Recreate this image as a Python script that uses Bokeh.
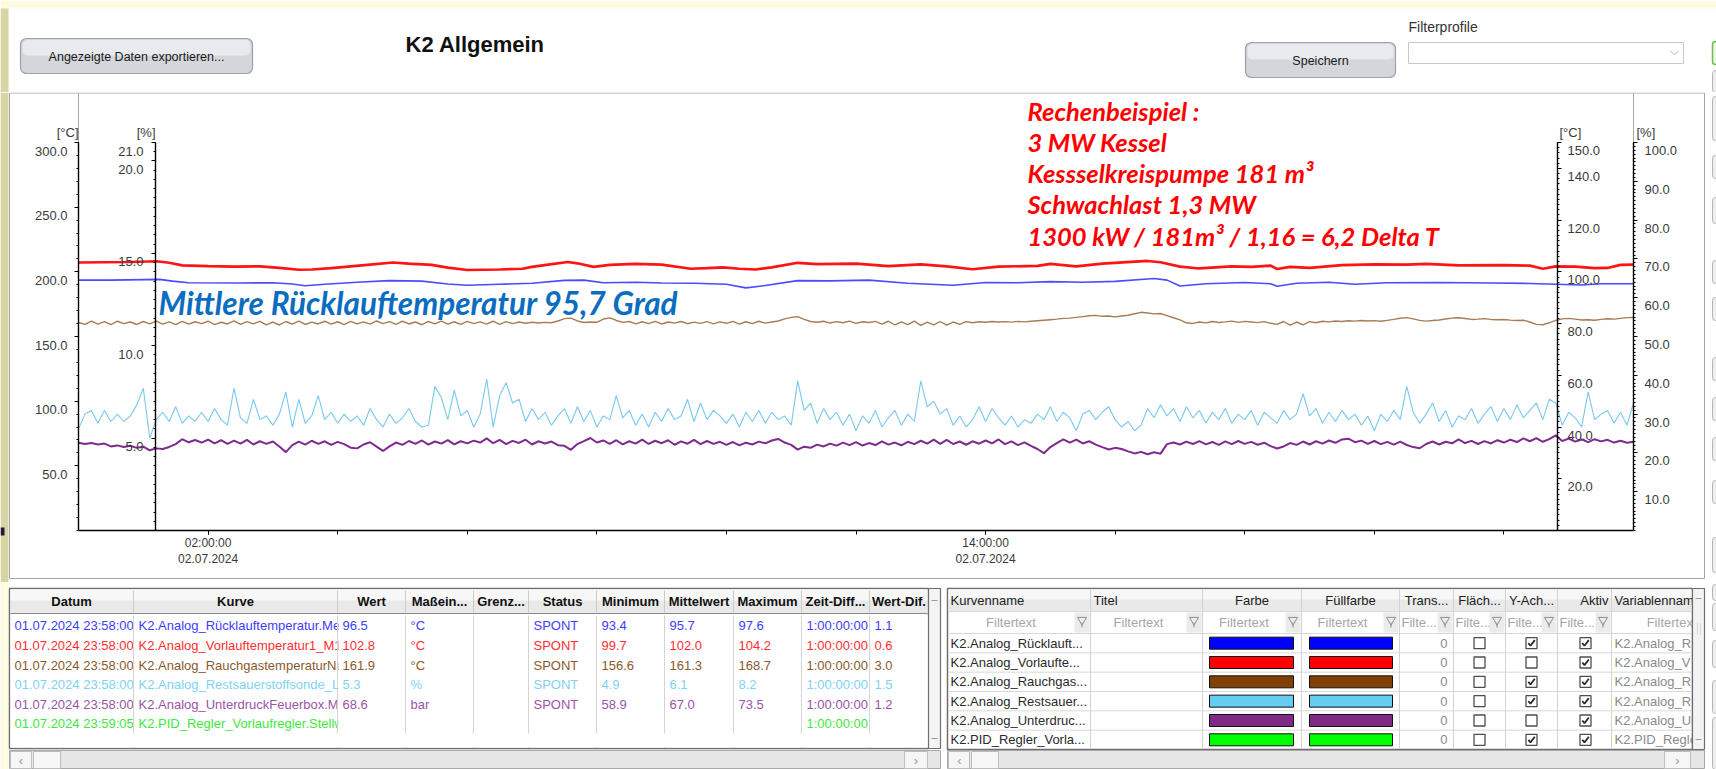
from datetime import datetime, timedelta
from bokeh.plotting import figure
from bokeh.models import Range1d, LinearAxis, DatetimeAxis, FixedTicker, CustomJSTickFormatter
from bokeh.layouts import column
from bokeh.core.properties import value
from bokeh.embed import file_html
from bokeh.resources import INLINE

# ------------------------------------------------------------------ data
START = datetime(2024, 7, 2, 0, 0)
EPOCH = datetime(1970, 1, 1)
SPAN_HOURS = 24
STEP_MIN = 6  # sampling step of the dense series

RED_HOURS = [0.0, 0.4, 0.8, 1.2, 1.4, 1.6, 2.0, 2.4, 2.8, 3.1, 3.4, 3.6, 3.9, 4.2, 4.5, 4.85, 5.1, 5.45,
             5.7, 6.0, 6.5, 6.85, 7.0, 7.25, 7.55, 7.7, 7.95, 8.2, 8.6, 9.0, 9.45, 9.7, 9.95, 10.2, 10.45,
             10.7, 11.1, 11.4, 12.0, 12.5, 13.0, 13.4, 13.8, 14.2, 14.8, 15.0, 15.4, 15.8, 16.5, 16.7, 17.0,
             17.3, 17.8, 18.1, 18.4, 18.5, 18.7, 19.0, 19.5, 20.0, 20.5, 20.8, 21.3, 22.0, 22.4, 22.6, 22.8,
             23.1, 23.4, 23.6, 23.8, 24.0]
RED_VALUES = [103.6, 103.7, 103.8, 104.1, 103.5, 102.5, 102.2, 102.0, 102.1, 101.5, 100.8, 100.9, 101.4,
              102.1, 102.8, 103.6, 103.2, 102.7, 101.6, 100.7, 100.9, 101.2, 101.9, 102.8, 103.8, 103.3,
              101.9, 102.7, 103.1, 102.8, 101.2, 101.4, 101.7, 101.2, 100.9, 101.7, 103.5, 103.0, 103.2,
              102.2, 102.9, 102.1, 101.0, 102.0, 102.3, 103.1, 102.1, 103.2, 104.2, 103.7, 102.0, 101.3,
              102.1, 101.9, 102.4, 101.1, 101.9, 101.5, 102.6, 102.9, 102.8, 103.1, 102.5, 102.6, 102.4,
              101.2, 102.1, 102.0, 101.4, 101.5, 102.7, 102.8]

BLUE_HOURS = [0.0, 0.5, 1.0, 1.25, 1.45, 1.7, 2.5, 3.0, 3.3, 3.5, 3.8, 4.3, 4.8, 5.3, 5.7, 6.0, 6.5, 7.0,
              7.5, 7.8, 8.1, 8.6, 9.0, 9.5, 10.0, 10.3, 10.6, 11.1, 11.6, 12.2, 12.8, 13.5, 14.0, 14.5, 15.0,
              15.5, 16.0, 16.6, 16.8, 17.0, 17.4, 18.0, 18.4, 18.5, 18.8, 19.3, 19.7, 20.2, 21.0, 21.8, 22.4,
              22.8, 23.2, 23.5, 24.0]
BLUE_VALUES = [96.8, 96.8, 97.0, 97.1, 96.4, 95.8, 95.7, 95.8, 95.3, 94.6, 95.2, 96.0, 96.6, 96.4, 95.3,
               94.8, 95.2, 95.6, 96.7, 96.8, 95.8, 96.0, 95.7, 95.6, 95.2, 93.8, 94.7, 96.6, 96.5, 96.8,
               95.6, 94.8, 95.9, 95.8, 96.2, 96.0, 96.3, 97.4, 96.8, 94.5, 95.4, 95.9, 95.4, 94.4, 95.6,
               96.0, 95.2, 95.8, 95.9, 95.7, 95.5, 95.2, 94.9, 95.4, 95.4]

BROWN_VALUES = [
    160.8, 159.4, 161.9, 159.6, 161.5, 159.2, 161.8, 159.9, 161.2, 159.3,
    161.6, 159.8, 161.9, 159.5, 161.3, 159.1, 161.7, 159.6, 161.4, 159.9,
    161.8, 159.2, 161.0, 159.7, 162.0, 159.4, 161.5, 159.8, 161.7, 159.0,
    161.2, 158.9, 161.6, 159.5, 161.9, 159.3, 161.1, 159.7, 161.8, 159.6,
    161.4, 159.2, 161.7, 159.8, 161.3, 159.5, 162.0, 159.9, 161.5, 159.4,
    161.8, 159.7, 161.2, 159.1, 161.6, 159.8, 161.9, 159.5, 161.4, 159.3,
    161.7, 159.9, 161.3, 159.6, 161.8, 159.4, 161.5, 159.9, 161.2, 160.2,
    161.0, 160.4, 160.9, 160.6, 162.0, 163.8, 164.2, 162.0, 160.8, 161.2,
    161.0, 163.5, 164.4, 162.4, 160.9, 161.6, 159.8, 161.4, 160.0, 161.7,
    159.7, 161.2, 160.3, 161.6, 159.9, 161.1, 160.1, 161.5, 159.8, 161.3,
    160.2, 161.7, 159.6, 161.4, 160.0, 161.8, 160.3, 161.2, 162.0, 163.6,
    164.8, 165.3, 163.2, 161.6, 161.0, 161.8, 160.4, 161.5, 160.6, 161.9,
    160.2, 161.4, 160.8, 161.7, 159.6, 161.8, 158.9, 161.3, 159.2, 161.9,
    158.6, 161.1, 159.0, 161.6, 158.8, 161.2, 159.4, 161.5, 160.6, 161.4,
    161.0, 161.6, 161.2, 161.5, 161.1, 161.7, 161.3, 161.8, 162.2, 162.6,
    163.0, 163.4, 164.0, 164.2, 164.8, 165.4, 166.0, 166.3, 165.6, 165.8,
    165.2, 165.9, 166.4, 167.6, 168.7, 168.2, 167.5, 167.8, 166.2, 164.5,
    162.8, 160.6, 160.1, 161.2, 160.5, 161.6, 160.8, 161.3, 161.9, 160.9,
    161.7, 161.2, 160.7, 161.5, 160.2, 159.4, 161.6, 158.8, 161.2, 159.0,
    161.5, 160.6, 161.8, 161.3, 162.0, 161.6, 162.2, 161.9, 162.4, 162.0,
    162.3, 161.8, 162.5, 163.2, 164.1, 164.6, 163.6, 162.5, 161.9, 162.4,
    162.8, 163.5, 164.2, 164.5, 163.9, 163.2, 163.4, 163.8, 163.2, 162.9,
    163.1, 162.7, 162.4, 162.6, 161.2, 159.4, 159.1, 160.6, 162.5, 163.6,
    164.0, 163.4, 162.8, 163.0, 162.6, 163.2, 163.7, 163.4, 164.0, 164.6,
    164.7]

O2_VALUES = [
    5.5, 6.3, 6.5, 5.8, 6.5, 5.9, 6.3, 5.9, 6.2, 6.8,
    7.7, 5.0, 6.0, 6.4, 5.9, 6.7, 5.8, 6.2, 5.9, 6.4,
    5.9, 6.6, 6.0, 5.7, 7.7, 6.1, 5.8, 7.1, 6.0, 6.2,
    5.7, 6.3, 7.5, 5.6, 7.1, 5.8, 6.2, 7.3, 6.0, 6.4,
    5.8, 6.3, 5.9, 6.2, 5.7, 6.6, 6.0, 5.6, 6.3, 5.8,
    6.1, 6.6, 5.9, 5.6, 5.7, 7.8, 7.2, 6.0, 7.6, 6.2,
    6.5, 5.6, 6.3, 8.2, 5.6, 7.3, 8.0, 6.9, 7.1, 5.9,
    6.6, 6.0, 6.4, 5.7, 6.2, 6.6, 5.8, 6.7, 5.9, 6.5,
    5.6, 6.2, 6.0, 7.3, 6.1, 6.5, 5.7, 6.3, 5.6, 6.4,
    5.9, 6.6, 6.0, 6.2, 7.1, 5.9, 6.9, 6.0, 6.5, 6.2,
    5.8, 6.3, 5.6, 6.4, 5.9, 6.5, 5.8, 6.4, 6.0, 6.2,
    5.7, 8.1, 6.5, 6.9, 5.8, 6.6, 6.0, 6.4, 5.7, 6.3,
    5.4, 6.2, 5.8, 6.5, 5.6, 6.1, 6.5, 5.7, 6.3, 5.9,
    8.1, 6.7, 7.0, 6.3, 6.6, 5.7, 6.2, 5.6, 6.0, 6.7,
    5.9, 6.6, 6.1, 5.7, 6.2, 5.6, 6.0, 5.8, 6.3, 6.0,
    6.7, 5.9, 6.4, 6.1, 5.4, 6.3, 6.5, 6.0, 6.4, 6.7,
    6.0, 5.6, 5.9, 5.4, 5.7, 6.6, 6.1, 6.8, 6.2, 6.6,
    5.9, 6.7, 6.1, 6.5, 5.8, 6.4, 6.0, 6.6, 5.8, 6.3,
    6.0, 6.5, 5.7, 6.4, 6.1, 5.8, 6.5, 6.0, 6.3, 7.4,
    6.2, 6.6, 5.8, 6.4, 5.9, 6.5, 6.0, 6.3, 5.7, 6.2,
    5.4, 6.3, 5.9, 6.5, 6.0, 7.8, 6.4, 5.8, 6.3, 6.9,
    5.9, 6.5, 5.6, 6.2, 6.0, 6.6, 5.8, 6.3, 6.7, 5.9,
    6.6, 6.0, 6.8, 6.1, 6.5, 6.9, 6.0, 7.1, 6.9, 5.7,
    6.4, 6.1, 5.6, 7.5, 6.0, 6.3, 6.5, 5.8, 6.4, 5.7,
    6.9]

PURPLE_VALUES = [
    67.8, 66.9, 67.6, 66.5, 67.2, 65.0, 65.8, 64.6, 65.5, 63.9,
    64.8, 62.0, 63.5, 63.0, 64.6, 66.8, 70.6, 68.2, 70.0, 67.9,
    70.3, 67.4, 69.8, 66.9, 69.5, 67.2, 70.1, 66.5, 69.0, 67.0,
    68.8, 64.9, 60.6, 66.0, 68.7, 66.4, 69.4, 67.0, 69.0, 66.2,
    68.5, 66.8, 64.0, 63.5, 66.5, 68.2, 64.8, 61.5, 65.0, 68.0,
    66.2, 69.2, 67.0, 69.6, 66.4, 68.8, 67.2, 69.9, 66.6, 69.0,
    67.4, 69.5, 68.0, 71.2, 67.5, 70.0, 66.8, 69.3, 67.7, 70.2,
    66.5, 69.0, 67.3, 68.8, 66.0, 65.5, 62.4, 66.8, 69.1, 71.5,
    68.0, 69.6, 67.0, 69.8, 66.6, 69.0, 67.2, 70.2, 66.9, 69.4,
    67.5, 69.8, 66.3, 68.9, 67.1, 70.0, 66.8, 69.2, 67.0, 68.6,
    66.2, 68.4, 65.8, 67.9, 66.5, 68.7, 67.4, 69.6, 70.8, 68.0,
    66.2, 62.5, 64.8, 63.9, 66.4, 65.0, 67.2, 65.6, 67.9, 66.0,
    68.3, 65.7, 67.6, 66.1, 68.9, 66.4, 68.0, 65.9, 68.6, 66.8,
    69.4, 67.2, 70.3, 67.0, 70.0, 66.9, 68.8, 66.3, 69.0, 67.1,
    69.6, 67.4, 70.4, 66.8, 68.9, 66.0, 68.2, 65.4, 63.0, 59.8,
    64.5, 67.6, 70.5, 68.0, 70.2, 67.3, 69.0, 66.4, 64.5, 62.6,
    63.9, 63.0, 61.2, 59.6, 60.8, 59.0, 60.5, 59.4, 66.8, 68.0,
    66.5, 68.7, 66.9, 69.1, 66.6, 68.4, 66.2, 68.9, 66.8, 69.2,
    67.0, 68.5, 66.3, 67.9, 65.2, 63.4, 65.0, 67.6, 66.2, 68.8,
    66.5, 69.0, 67.2, 69.6, 67.8, 70.4, 71.0, 68.3, 69.5, 67.0,
    69.2, 66.8, 68.5, 66.4, 68.7, 66.1, 64.5, 63.6, 66.9, 68.8,
    66.5, 68.6, 67.4, 70.4, 67.6, 69.3, 66.9, 69.1, 67.3, 69.8,
    68.0, 70.2, 68.4, 71.3, 69.0, 71.5, 68.6, 70.6, 73.5, 69.2,
    71.0, 68.7, 70.4, 68.3, 70.6, 68.9, 70.1, 68.0, 69.4, 67.9,
    68.6]

# axes
LEFT_C_MAX, LEFT_C_TICKS = 300, [50, 100, 150, 200, 250, 300]
LEFT_P_MAX, LEFT_P_TICKS = 21, [5, 10, 15, 20, 21]
RIGHT_C_MAX, RIGHT_C_TICKS = 150, [20, 40, 60, 80, 100, 120, 140, 150]
RIGHT_P_MAX, RIGHT_P_TICKS = 100, [10, 20, 30, 40, 50, 60, 70, 80, 90, 100]
X_TICK_HOURS = [2, 14]
X_TICK_TIME = ["02:00:00", "14:00:00"]
X_TICK_DATE = ["02.07.2024", "02.07.2024"]
X_MINOR_HOURS = [2, 4, 6, 8, 10, 12, 14, 16, 18, 20, 22]
UNIT_LABELS = ["[°C]", "[%]", "[°C]", "[%]"]

TITLE = "K2 Allgemein"
NOTE_LINES = ["Rechenbeispiel :", "3 MW Kessel", "Kessselkreispumpe 181 m³", "Schwachlast 1,3 MW",
              "1300 kW / 181m³ / 1,16 = 6,2 Delta T"]
BLUE_NOTE = "Mittlere Rücklauftemperatur 95,7 Grad"

# left table
L_HEAD = ["Datum", "Kurve", "Wert", "Maßein...", "Grenz...", "Status", "Minimum", "Mittelwert",
          "Maximum", "Zeit-Diff...", "Wert-Dif."]
DATUM = ["01.07.2024 23:58:00"] * 5 + ["01.07.2024 23:59:05"]
KURVE = ["K2.Analog_Rücklauftemperatur.Me", "K2.Analog_Vorlauftemperatur1_M1",
         "K2.Analog_RauchgastemperaturNa", "K2.Analog_Restsauerstoffsonde_L",
         "K2.Analog_UnterdruckFeuerbox.M", "K2.PID_Regler_Vorlaufregler.Stellw"]
WERT = ["96.5", "102.8", "161.9", "5.3", "68.6", ""]
EINHEIT = ["°C", "°C", "°C", "%", "bar", ""]
GRENZ = [""] * 6
STATUS = ["SPONT"] * 5 + [""]
MINIMUM = ["93.4", "99.7", "156.6", "4.9", "58.9", ""]
MITTEL = ["95.7", "102.0", "161.3", "6.1", "67.0", ""]
MAXIMUM = ["97.6", "104.2", "168.7", "8.2", "73.5", ""]
ZEITDIFF = ["1:00:00:00"] * 6
WERTDIF = ["1.1", "0.6", "3.0", "1.5", "1.2", ""]
ROW_TEXT_COLORS = ["#3d3dff", "#ff2e2e", "#8a5a2e", "#80d2f5", "#9b54a8", "#3ee83e"]

# right table
R_HEAD = ["Kurvenname", "Titel", "Farbe", "Füllfarbe", "Trans...", "Fläch...", "Y-Ach...", "Aktiv",
          "Variablennam"]
KURVENNAME = ["K2.Analog_Rücklauft...", "K2.Analog_Vorlaufte...", "K2.Analog_Rauchgas...",
              "K2.Analog_Restsauer...", "K2.Analog_Unterdruc...", "K2.PID_Regler_Vorla..."]
VARIABLENNAME = ["K2.Analog_R", "K2.Analog_V", "K2.Analog_R", "K2.Analog_R", "K2.Analog_U", "K2.PID_Regle"]
CURVE_COLORS = ["#0000ff", "#ff0000", "#804000", "#66ccf2", "#802a88", "#00ff00"]
TRANS = ["0"] * 6
FLAECHE = [False] * 6
Y_ACHSE = [True, False, True, True, False, True]
AKTIV = [True] * 6

# line styles
RED_C, BLUE_C, BROWN_C, O2_C, PURPLE_C = "#ff1414", "#4a4aff", "#a87c55", "#78c8ef", "#7e2a8e"

# ------------------------------------------------------------------ geometry (page pixels)
W = 1716
HEAD_TOP, HEAD_H = 0, 92
MAIN_TOP, MAIN_H = 92, 490
BOT_TOP = MAIN_TOP + MAIN_H
BOT_H = 769 - HEAD_H - MAIN_H
DATA_L, DATA_R = 78, 1633
AX_TOP, AX_BOT = 142, 530
PPH = (DATA_R - DATA_L) / SPAN_HOURS

SANS = value("Liberation Sans")
LATO = value("Lato")
STRIP_Y, STRIP_K = "#fdfbe1", "#d8d4a3"


def ms(h):
    return (START + timedelta(hours=h) - EPOCH).total_seconds() * 1000.0


def hx(px):
    return (px - DATA_L) / PPH


def X(px):
    return ms(hx(px))


def ppu(m):
    return (AX_BOT - AX_TOP) / m


def yr(m):
    return Range1d(start=(AX_BOT - (MAIN_TOP + MAIN_H)) / ppu(m), end=(AX_BOT - MAIN_TOP) / ppu(m))


def Y(py):
    return (AX_BOT - py) / ppu(LEFT_C_MAX)


def page_y(v, m):
    return AX_BOT - v * ppu(m)


# ------------------------------------------------------------------ main chart
p = figure(width=W, height=MAIN_H, x_axis_type="datetime",
           x_range=Range1d(X(0), X(W)), y_range=yr(LEFT_C_MAX),
           x_axis_location=None, y_axis_location=None, toolbar_location=None,
           output_backend="svg", min_border=0, outline_line_color=None,
           background_fill_color="white", border_fill_color="white")
p.grid.visible = False
p.extra_y_ranges = {"pl": yr(LEFT_P_MAX), "cr": yr(RIGHT_C_MAX), "pr": yr(RIGHT_P_MAX)}

BLANK = CustomJSTickFormatter(code="return ''")


def style(ax, minor_len=2):
    ax.axis_line_color = "black"
    ax.axis_line_width = 1.4
    ax.major_tick_line_color = "black"
    ax.minor_tick_line_color = "black"
    ax.major_tick_in = 0
    ax.major_tick_out = 4
    ax.minor_tick_in = 0
    ax.minor_tick_out = minor_len
    ax.formatter = BLANK
    ax.major_label_standoff = 0
    return ax


def minor(maxv, step):
    out, v = [], 0.0
    while v <= maxv + 1e-9:
        out.append(round(v, 3))
        v += step
    return out


ax_lc = style(LinearAxis(fixed_location=X(DATA_L), bounds=(0, LEFT_C_MAX),
                         ticker=FixedTicker(ticks=LEFT_C_TICKS, minor_ticks=minor(LEFT_C_MAX, 10))))
p.add_layout(ax_lc, "left")
ax_lp = style(LinearAxis(y_range_name="pl", fixed_location=X(155), bounds=(0, LEFT_P_MAX),
                         ticker=FixedTicker(ticks=LEFT_P_TICKS, minor_ticks=minor(LEFT_P_MAX, 0.5))))
p.add_layout(ax_lp, "left")
ax_rc = style(LinearAxis(y_range_name="cr", fixed_location=X(1557), bounds=(0, RIGHT_C_MAX),
                         ticker=FixedTicker(ticks=RIGHT_C_TICKS, minor_ticks=minor(RIGHT_C_MAX, 2))))
p.add_layout(ax_rc, "right")
ax_rp = style(LinearAxis(y_range_name="pr", fixed_location=X(DATA_R), bounds=(0, RIGHT_P_MAX),
                         ticker=FixedTicker(ticks=RIGHT_P_TICKS, minor_ticks=minor(RIGHT_P_MAX, 1))))
p.add_layout(ax_rp, "right")
ax_x = style(DatetimeAxis(fixed_location=0, bounds=(ms(0), ms(SPAN_HOURS)),
                          ticker=FixedTicker(ticks=[ms(h) for h in X_TICK_HOURS],
                                             minor_ticks=[ms(h) for h in X_MINOR_HOURS])), minor_len=4)
p.add_layout(ax_x, "below")

# window strips, panel border and grey frame extensions above the axes
p.quad(left=[X(0)], right=[X(8)], top=[Y(MAIN_TOP)], bottom=[Y(MAIN_TOP + MAIN_H)], fill_color=STRIP_K,
       line_color=None)
p.quad(left=[X(0)], right=[X(4)], top=[Y(527)], bottom=[Y(535)], fill_color="#2b1838", line_color=None)
p.quad(left=[X(9)], right=[X(1704)], top=[Y(92.5)], bottom=[Y(578)], fill_color=None,
       line_color="#a6a6a6", line_width=1)
p.segment(x0=[X(DATA_L), X(DATA_R)], y0=[LEFT_C_MAX] * 2, x1=[X(DATA_L), X(DATA_R)], y1=[Y(93)] * 2,
          line_color="#a6a6a6", line_width=1)
SLIV_MAIN = [(96, 140), (155, 178), (197, 223), (260, 283), (297, 320), (357, 380), (397, 420),
             (437, 460), (480, 503), (537, 572)]
p.quad(left=[X(1712)] * len(SLIV_MAIN), right=[X(1722)] * len(SLIV_MAIN),
       top=[Y(a) for a, _ in SLIV_MAIN], bottom=[Y(c) for _, c in SLIV_MAIN],
       fill_color="#eeeeee", line_color="#b4b4b4", border_radius=3)

# data lines
dense_x = lambda vals: [ms(i * STEP_MIN / 60.0) for i in range(len(vals))]
p.line(dense_x(O2_VALUES), O2_VALUES, y_range_name="pl", line_color=O2_C, line_width=1.1)
p.line(dense_x(PURPLE_VALUES), PURPLE_VALUES, line_color=PURPLE_C, line_width=2)
p.line(dense_x(BROWN_VALUES), BROWN_VALUES, line_color=BROWN_C, line_width=1.4)
p.line([ms(h) for h in BLUE_HOURS], BLUE_VALUES, y_range_name="cr", line_color=BLUE_C, line_width=1.6)
p.line([ms(h) for h in RED_HOURS], RED_VALUES, y_range_name="cr", line_color=RED_C, line_width=2.7)

# tick labels
LBL = dict(text_font=SANS, text_font_size="13px", text_color="#3a3a3a", text_baseline="middle")
p.text(x=[X(DATA_L - 11)] * len(LEFT_C_TICKS), y=[Y(page_y(v, LEFT_C_MAX) + 8.5) for v in LEFT_C_TICKS],
       text=[f"{v:.1f}" for v in LEFT_C_TICKS], text_align="right", **LBL)
p.text(x=[X(155 - 12)] * len(LEFT_P_TICKS), y=[Y(page_y(v, LEFT_P_MAX) + 8.5) for v in LEFT_P_TICKS],
       text=[f"{v:.1f}" for v in LEFT_P_TICKS], text_align="right", **LBL)
p.text(x=[X(1557 + 10)] * len(RIGHT_C_TICKS), y=[Y(page_y(v, RIGHT_C_MAX) + 8) for v in RIGHT_C_TICKS],
       text=[f"{v:.1f}" for v in RIGHT_C_TICKS], text_align="left", **LBL)
p.text(x=[X(DATA_R + 11)] * len(RIGHT_P_TICKS), y=[Y(page_y(v, RIGHT_P_MAX) + 8) for v in RIGHT_P_TICKS],
       text=[f"{v:.1f}" for v in RIGHT_P_TICKS], text_align="left", **LBL)
p.text(x=[X(DATA_L), X(155)], y=[Y(132)] * 2, text=UNIT_LABELS[:2], text_align="right", **LBL)
p.text(x=[X(1559), X(DATA_R + 3)], y=[Y(132)] * 2, text=UNIT_LABELS[2:], text_align="left", **LBL)
p.text(x=[ms(h) for h in X_TICK_HOURS], y=[Y(542)] * 2, text=X_TICK_TIME, text_align="center",
       text_font=SANS, text_font_size="12px", text_color="#3a3a3a", text_baseline="middle")
p.text(x=[ms(h) for h in X_TICK_HOURS], y=[Y(557.5)] * 2, text=X_TICK_DATE, text_align="center",
       text_font=SANS, text_font_size="12px", text_color="#3a3a3a", text_baseline="middle")

# annotations
p.text(x=[X(1027)] * len(NOTE_LINES), y=[Y(110 + 31.3 * i) for i in range(len(NOTE_LINES))],
       text=NOTE_LINES, text_font=LATO, text_font_size="25.5px", text_font_style="bold italic",
       text_color="#ff0000", text_align="left", text_baseline="middle")
p.text(x=[X(158)], y=[Y(302)], text=[BLUE_NOTE], text_font=LATO, text_font_size="31.5px",
       text_font_style="bold italic", text_color="#0b6dc0", text_align="left", text_baseline="middle")


# ------------------------------------------------------------------ helpers for UI figures
def ui_fig(top, height):
    f = figure(width=W, height=height, x_range=Range1d(0, W), y_range=Range1d(top + height, top),
               x_axis_location=None, y_axis_location=None, toolbar_location=None,
               output_backend="svg", min_border=0, outline_line_color=None,
               background_fill_color="white", border_fill_color="white")
    f.grid.visible = False
    return f


# ------------------------------------------------------------------ header
h = ui_fig(HEAD_TOP, HEAD_H)
h.quad(left=[0], right=[W], top=[0], bottom=[8], fill_color=STRIP_Y, line_color=None)
h.quad(left=[0], right=[8], top=[8], bottom=[HEAD_H], fill_color=STRIP_K, line_color=None)
BTN_L, BTN_R, BTN_T, BTN_B = [20, 1245], [252, 1395], [38, 42], [73, 77]
h.quad(left=BTN_L, right=BTN_R, top=BTN_T, bottom=BTN_B, fill_color="#d3d7dc", line_color="#9da2a8",
       line_width=1.2, border_radius=6)
h.quad(left=[l + 2 for l in BTN_L], right=[r - 2 for r in BTN_R], top=[t + 1.5 for t in BTN_T],
       bottom=[t + 17 for t in BTN_T], fill_color="#e8eaed", line_color=None, border_radius=5)
h.text(x=[(l + r) / 2 for l, r in zip(BTN_L, BTN_R)], y=[(t + b) / 2 + 1 for t, b in zip(BTN_T, BTN_B)],
       text=["Angezeigte Daten exportieren...", "Speichern"], text_font=SANS, text_font_size="12.5px",
       text_color="#1a1a1a", text_align="center", text_baseline="middle")
h.text(x=[405], y=[44], text=[TITLE], text_font=SANS, text_font_size="22px", text_font_style="bold",
       text_color="#111111", text_align="left", text_baseline="middle")
h.text(x=[1408], y=[26], text=["Filterprofile"], text_font=SANS, text_font_size="14px",
       text_color="#333333", text_align="left", text_baseline="middle")
h.quad(left=[1408], right=[1683], top=[42], bottom=[63], fill_color="white", line_color="#c8c8c8")
h.line(x=[1670, 1674, 1678], y=[50.5, 54.5, 50.5], line_color="#b4b4b4", line_width=1)
h.quad(left=[1712], right=[1722], top=[41], bottom=[64], fill_color="#eef6ea", line_color="#6cbf45",
       line_width=1.5, border_radius=3)
h.quad(left=[1712], right=[1722], top=[70], bottom=[92], fill_color="#eeeeee", line_color="#b4b4b4",
       border_radius=3)

# ------------------------------------------------------------------ bottom tables
b = ui_fig(BOT_TOP, BOT_H)
b.quad(left=[0], right=[8], top=[BOT_TOP], bottom=[BOT_TOP + BOT_H], fill_color=STRIP_Y, line_color=None)
TXT = dict(text_font=SANS, text_font_size="13px", text_baseline="middle")

# left table
L_COLS = [9, 133, 337, 405, 473, 528, 596, 664, 733, 801, 869, 928]
L_DATA = [DATUM, KURVE, WERT, EINHEIT, GRENZ, STATUS, MINIMUM, MITTEL, MAXIMUM, ZEITDIFF, WERTDIF]
L_ROW0, L_RH = 615.5, 19.6
l_rows = [L_ROW0 + L_RH * (i + 0.5) for i in range(len(DATUM))]
b.quad(left=[9], right=[928], top=[588], bottom=[748], fill_color="white", line_color="#6e6e6e",
       line_width=1.5)
b.quad(left=[10], right=[927], top=[589], bottom=[613], fill_color="#e9e9e9", line_color=None)
b.quad(left=[10], right=[927], top=[589], bottom=[600], fill_color="#f7f7f7", line_color=None)
b.segment(x0=[10], y0=[613], x1=[927], y1=[613], line_color="#8a8a8a", line_width=1.2)
b.segment(x0=L_COLS[1:-1], y0=[590] * (len(L_COLS) - 2), x1=L_COLS[1:-1], y1=[612] * (len(L_COLS) - 2),
          line_color="#cbcbcb")
b.text(x=[(a + c) / 2 for a, c in zip(L_COLS[:-1], L_COLS[1:])], y=[601] * len(L_HEAD), text=L_HEAD,
       text_font_style="bold", text_color="#111111", text_align="center", **TXT)
for j, col in enumerate(L_DATA):
    b.quad(left=[L_COLS[j] + 1], right=[L_COLS[j + 1] - 0.5], top=[614.5], bottom=[747],
           fill_color="white", line_color=None)
    b.text(x=[L_COLS[j] + 5] * len(col), y=l_rows, text=col, text_color=ROW_TEXT_COLORS,
           text_align="left", **TXT)
b.segment(x0=L_COLS[1:-1], y0=[615] * (len(L_COLS) - 2), x1=L_COLS[1:-1], y1=[733] * (len(L_COLS) - 2),
          line_color="#d4d4d4")
b.quad(left=[928], right=[940], top=[588], bottom=[748], fill_color="#f3f3f3", line_color="#6e6e6e",
       line_width=1.2)
b.segment(x0=[931, 931], y0=[600, 738], x1=[937, 937], y1=[600, 738], line_color="#9a9a9a")

# right table
R_COLS = [947, 1090, 1202, 1301, 1399, 1453, 1505, 1557, 1611, 1692]
R_ROW0, R_RH = 633, 19.33
r_rows = [R_ROW0 + R_RH * (i + 0.5) for i in range(len(KURVENNAME))]
b.quad(left=[947], right=[1692], top=[588], bottom=[749], fill_color="white", line_color="#6e6e6e",
       line_width=1.5)
b.quad(left=[948], right=[1691], top=[589], bottom=[611], fill_color="#e9e9e9", line_color=None)
b.quad(left=[948], right=[1691], top=[589], bottom=[599], fill_color="#f7f7f7", line_color=None)
b.segment(x0=[948] * 7, y0=[611] + [R_ROW0 + R_RH * i for i in range(6)],
          x1=[1691] * 7, y1=[611] + [R_ROW0 + R_RH * i for i in range(6)], line_color="#d8d8d8")
b.segment(x0=R_COLS[1:-1], y0=[589] * (len(R_COLS) - 2), x1=R_COLS[1:-1], y1=[748] * (len(R_COLS) - 2),
          line_color="#d2d2d2")
rh_x = [950, 1093, (1202 + 1301) / 2, (1301 + 1399) / 2, (1399 + 1453) / 2, (1453 + 1505) / 2,
        (1505 + 1557) / 2, 1608, 1614]
rh_al = ["left", "left", "center", "center", "center", "center", "center", "right", "left"]
for xx, t, al in zip(rh_x, R_HEAD, rh_al):
    b.text(x=[xx], y=[600], text=[t], text_color="#222222", text_align=al, **TXT)
for j in range(len(R_COLS) - 1):
    l, r = R_COLS[j], R_COLS[j + 1]
    if j < 4:
        b.text(x=[(l + r - 16) / 2], y=[622], text=["Filtertext"], text_color="#a6a6a6",
               text_align="center", **TXT)
    elif j < 8:
        b.text(x=[l + 2], y=[622], text=["Filte..."], text_color="#a6a6a6", text_align="left", **TXT)
    else:
        b.text(x=[1696], y=[622], text=["Filtertext"], text_color="#a6a6a6", text_align="right", **TXT)
    if j < 8:
        b.quad(left=[r - 16], right=[r - 1], top=[612], bottom=[632], fill_color="#ebebeb", line_color=None)
        b.scatter(x=[r - 8.5], y=[619.5], marker="inverted_triangle", size=9, fill_color=None,
                  line_color="#8f8f8f", line_width=1)
        b.segment(x0=[r - 8.5], y0=[622], x1=[r - 8.5], y1=[627], line_color="#8f8f8f")
b.text(x=[950] * 6, y=r_rows, text=KURVENNAME, text_color="#2a2a2a", text_align="left", **TXT)
b.quad(left=[1209] * 6, right=[1293] * 6, top=[c - 6 for c in r_rows], bottom=[c + 6 for c in r_rows],
       fill_color=CURVE_COLORS, line_color="#111111", line_width=1)
b.quad(left=[1309] * 6, right=[1392] * 6, top=[c - 6 for c in r_rows], bottom=[c + 6 for c in r_rows],
       fill_color=CURVE_COLORS, line_color="#111111", line_width=1)
b.text(x=[1447] * 6, y=r_rows, text=TRANS, text_color="#8a8a8a", text_align="right", **TXT)
for cx, flags in [(1479, FLAECHE), (1531, Y_ACHSE), (1585, AKTIV)]:
    b.quad(left=[cx - 5.5] * 6, right=[cx + 5.5] * 6, top=[c - 5.5 for c in r_rows],
           bottom=[c + 5.5 for c in r_rows], fill_color="white", line_color="#4d4d4d", line_width=1.3)
    ys = [c for c, f in zip(r_rows, flags) if f]
    if ys:
        b.multi_line(xs=[[cx - 3.2, cx - 1, cx + 3.3] for _ in ys], ys=[[c, c + 2.6, c - 3] for c in ys],
                     line_color="#2b2b2b", line_width=1.8)
b.text(x=[1614] * 6, y=r_rows, text=VARIABLENNAME, text_color="#8a8a8a", text_align="left", **TXT)
b.quad(left=[1692], right=[1704], top=[588], bottom=[749], fill_color="#f3f3f3", line_color="#6e6e6e",
       line_width=1.2)
b.segment(x0=[1695, 1695], y0=[598, 739], x1=[1701, 1701], y1=[598, 739], line_color="#9a9a9a")
b.segment(x0=[1697, 1700], y0=[623, 623], x1=[1697, 1700], y1=[634, 634], line_color="#c2c2c2",
          line_dash="1 1")

# horizontal scrollbars
b.quad(left=[9, 947], right=[940, 1704], top=[750, 750], bottom=[768, 768], fill_color="#e6e6e6",
       line_color="#a8a8a8")
b.quad(left=[10, 33, 948, 971, 904, 1664], right=[31, 60, 969, 998, 927, 1690], top=[751] * 6,
       bottom=[768] * 6, fill_color="#f6f6f6", line_color="#bdbdbd")
b.text(x=[20.5, 959, 915.5, 1677], y=[759.5] * 4, text=["‹", "‹", "›", "›"], text_color="#9a9a9a",
       text_align="center", **TXT)
SLIV_BOT = [(584, 600), (603, 630), (640, 667), (680, 713), (717, 769)]
b.quad(left=[1712] * len(SLIV_BOT), right=[1722] * len(SLIV_BOT), top=[a for a, _ in SLIV_BOT],
       bottom=[c for _, c in SLIV_BOT], fill_color="#eeeeee", line_color="#b4b4b4", border_radius=3)

layout = column(h, p, b, spacing=0)
open("out.html", "w").write(file_html(layout, INLINE))
